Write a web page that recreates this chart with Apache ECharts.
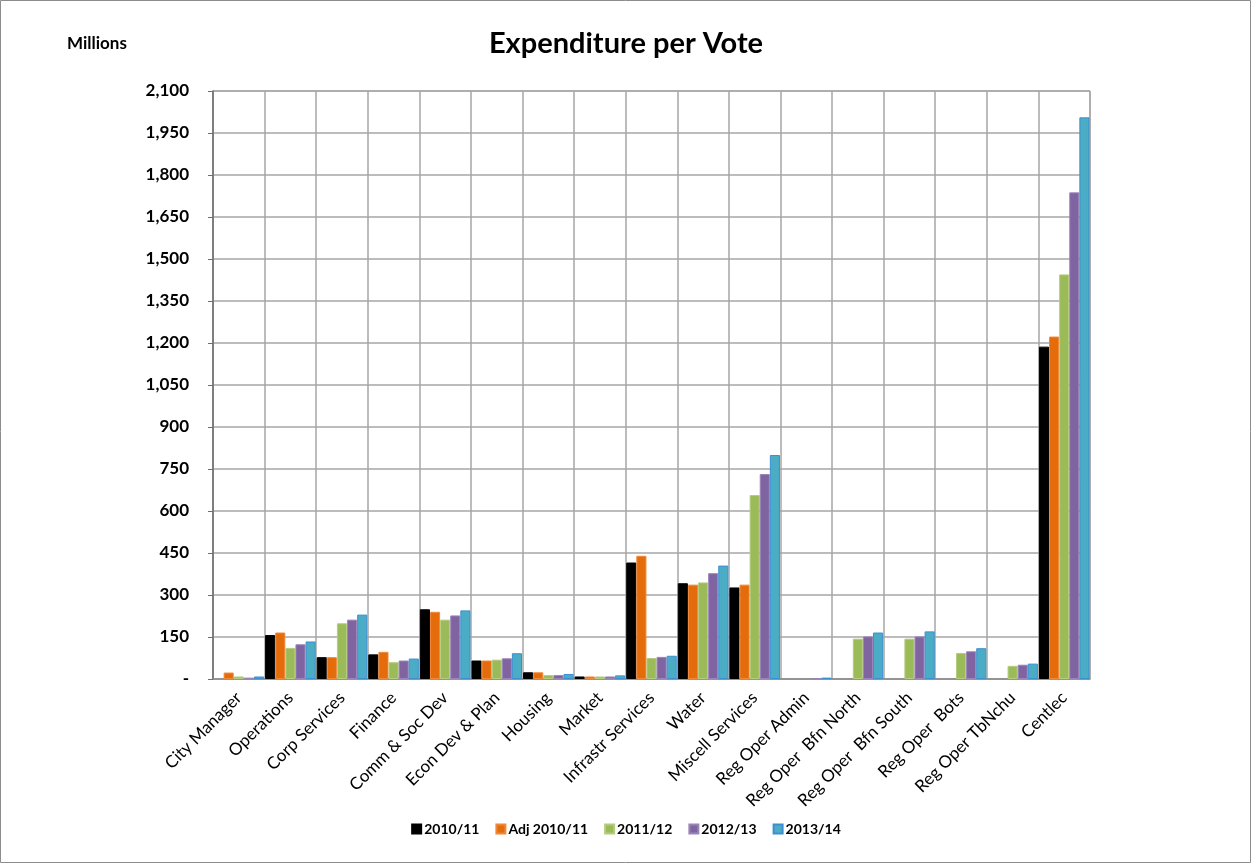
<!DOCTYPE html>
<html>
<head>
<meta charset="utf-8">
<script src="https://cdn.jsdelivr.net/npm/echarts@6/dist/echarts.min.js"></script>
<style>
  html, body { margin: 0; padding: 0; background: #fff; }
  #chart { width: 1252px; height: 866px; }
</style>
</head>
<body>
<div id="chart"></div>
<script>
// Votes (departments) on the category axis
const categories = [
  'City Manager', 'Operations', 'Corp Services', 'Finance', 'Comm & Soc Dev',
  'Econ Dev & Plan', 'Housing', 'Market', 'Infrastr Services', 'Water',
  'Miscell Services', 'Reg Oper Admin', 'Reg Oper  Bfn North', 'Reg Oper  Bfn South',
  'Reg Oper  Bots', 'Reg Oper TbNchu', 'Centlec'
];

// Expenditure per vote, in millions
const y2010 =    [0, 157, 78, 88, 249, 66, 24, 9, 416, 342, 327, 0, 0, 0, 0, 0, 1187];
const yAdj2010 = [23, 166, 78, 97, 240, 66, 24, 9, 440, 337, 337, 0, 0, 0, 0, 0, 1223];
const y2011 =    [9, 111, 199, 60, 212, 69, 14, 9, 75, 345, 657, 0, 144, 144, 93, 47, 1445];
const y2012 =    [5, 124, 212, 66, 227, 74, 14, 9, 79, 378, 732, 2, 152, 152, 99, 51, 1738];
const y2013 =    [9, 134, 230, 73, 245, 92, 18, 13, 83, 405, 800, 5, 166, 170, 110, 55, 2006];

const seriesNames = ['2010/11', 'Adj 2010/11', '2011/12', '2012/13', '2013/14'];
const seriesData = [y2010, yAdj2010, y2011, y2012, y2013];
const colors = ['#000000', '#E46C0A', '#9BBB59', '#8064A2', '#4BACC6'];
const borders = ['#000000', '#F0883A', '#B5CC80', '#9A85B8', '#3D8FD0'];

const yTicks = { min: 0, max: 2100, interval: 150 };

const FONT = 'Lato, "Open Sans", "Liberation Sans", sans-serif';

const chart = echarts.init(document.getElementById('chart'));
chart.setOption({
  animation: false,
  backgroundColor: '#ffffff',
  color: colors,
  textStyle: { fontFamily: FONT },
  graphic: [
    {
      type: 'rect',
      shape: { x: 0.5, y: 0.5, width: 1250, height: 862 },
      style: { fill: 'none', stroke: '#8c8c8c', lineWidth: 1 },
      silent: true
    },
    {
      type: 'text',
      left: 67, top: 35,
      style: { text: 'Millions', font: 'bold 17px ' + FONT, fill: '#000' }
    }
  ],
  title: {
    text: 'Expenditure per Vote',
    left: 'center',
    top: 24,
    textStyle: { fontSize: 29, fontWeight: 'bold', color: '#000', fontFamily: FONT }
  },
  legend: {
    data: seriesNames,
    bottom: 25,
    left: 'center',
    itemWidth: 9,
    itemHeight: 9,
    itemGap: 16,
    icon: 'rect',
    textStyle: { fontSize: 14, fontWeight: 'bold', color: '#000', fontFamily: FONT, padding: [0, 0, 0, -2] }
  },
  grid: {
    left: 213, right: 162, top: 91, bottom: 187,
    show: true, borderColor: '#8c8c8c', borderWidth: 1,
    containLabel: false
  },
  xAxis: {
    type: 'category',
    data: categories,
    axisLine: { lineStyle: { color: '#8c8c8c', width: 1.5 } },
    axisTick: { show: false },
    splitLine: { show: true, lineStyle: { color: '#a6a6a6', width: 1.5 } },
    axisLabel: {
      rotate: 45,
      interval: 0,
      fontSize: 17,
      color: '#000',
      fontFamily: FONT,
      margin: 16
    }
  },
  yAxis: {
    type: 'value',
    min: yTicks.min,
    max: yTicks.max,
    interval: yTicks.interval,
    axisLine: { show: true, lineStyle: { color: '#6e6e6e', width: 1.5 } },
    axisTick: { show: true, length: 5, lineStyle: { color: '#6e6e6e' } },
    splitLine: { show: true, lineStyle: { color: '#a6a6a6', width: 1.5 } },
    axisLabel: {
      fontSize: 17,
      fontWeight: 'bold',
      color: '#000',
      fontFamily: FONT,
      margin: 24,
      formatter: v => v === 0 ? '-' : v.toLocaleString('en-US')
    }
  },
  series: seriesNames.map((name, i) => ({
    name,
    type: 'bar',
    // a zero budget draws no bar at all
    data: seriesData[i].map(v => (v === 0 ? null : v)),
    barGap: '0%',
    barCategoryGap: '2%',
    itemStyle: { color: colors[i], borderColor: borders[i], borderWidth: 1 }
  }))
});
</script>
</body>
</html>
